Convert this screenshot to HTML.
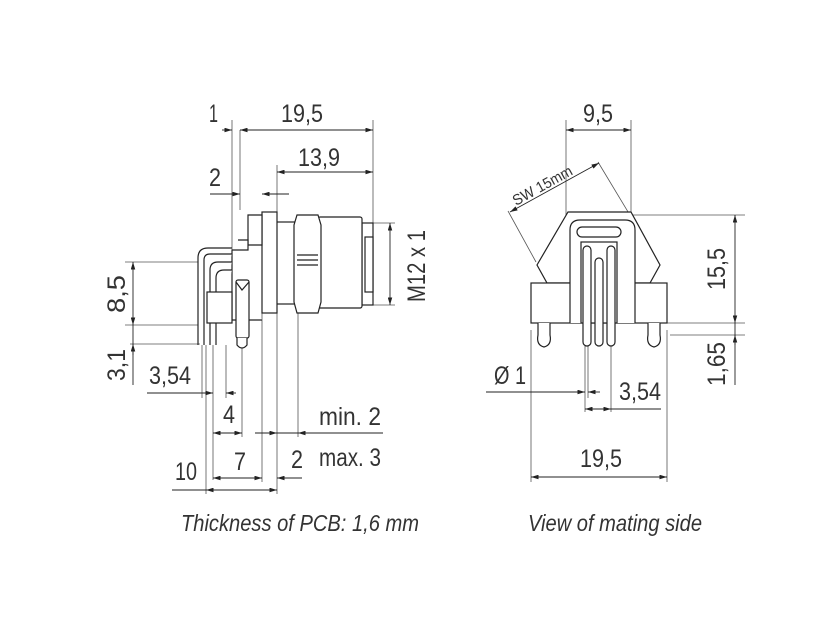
<!DOCTYPE html>
<html><head><meta charset="utf-8"><style>
html,body{margin:0;padding:0;background:#fff;width:838px;height:641px;overflow:hidden}
text{font-family:"Liberation Sans",sans-serif;fill:#333}
</style></head><body>
<svg width="838" height="641" viewBox="0 0 838 641" xmlns="http://www.w3.org/2000/svg">
<defs>
<marker id="a" viewBox="0 0 10 6" refX="10" refY="3" markerWidth="9" markerHeight="5" orient="auto-start-reverse"><path d="M0,0L10,3L0,6z" fill="#222"/></marker>
</defs>
<g stroke="#555" stroke-width="0.8" fill="none">
<line x1="232" y1="120" x2="232" y2="250"/>
<line x1="240" y1="130" x2="240" y2="210"/>
<line x1="373" y1="120" x2="373" y2="225"/>
<line x1="277" y1="165" x2="277" y2="213"/>
<line x1="125" y1="262" x2="212" y2="262"/>
<line x1="125" y1="325" x2="212" y2="325"/>
<line x1="130" y1="344" x2="200" y2="344"/>
<line x1="362" y1="223" x2="395" y2="223"/>
<line x1="362" y1="305" x2="395" y2="305"/>
<line x1="202" y1="345" x2="202" y2="398"/>
<line x1="213" y1="345" x2="213" y2="480"/>
<line x1="226" y1="345" x2="226" y2="398"/>
<line x1="242" y1="345" x2="242" y2="437"/>
<line x1="206" y1="345" x2="206" y2="494"/>
<line x1="262" y1="313" x2="262" y2="482"/>
<line x1="277" y1="313" x2="277" y2="494"/>
<line x1="298" y1="313" x2="298" y2="437"/>
</g>
<g stroke="#222" stroke-width="0.9" fill="none">
<line x1="222" y1="130" x2="232" y2="130" marker-end="url(#a)"/>
<line x1="240" y1="130" x2="373" y2="130" marker-start="url(#a)" marker-end="url(#a)"/>
<line x1="277" y1="172" x2="373" y2="172" marker-start="url(#a)" marker-end="url(#a)"/>
<line x1="210" y1="194" x2="240" y2="194" marker-end="url(#a)"/>
<line x1="289" y1="194" x2="262" y2="194" marker-end="url(#a)"/>
<line x1="133" y1="262" x2="133" y2="325" marker-start="url(#a)" marker-end="url(#a)"/>
<line x1="133" y1="325" x2="133" y2="385"/>
<line x1="133" y1="355" x2="133" y2="344" marker-end="url(#a)"/>
<line x1="147" y1="393" x2="213" y2="393" marker-end="url(#a)"/>
<line x1="236" y1="393" x2="226" y2="393" marker-end="url(#a)"/>
<line x1="213" y1="433" x2="242" y2="433" marker-start="url(#a)" marker-end="url(#a)"/>
<line x1="255" y1="433" x2="383" y2="433"/>
<line x1="255" y1="433" x2="277" y2="433" marker-end="url(#a)"/>
<line x1="298" y1="433" x2="310" y2="433" marker-start="url(#a)"/>
<line x1="213" y1="478" x2="262" y2="478" marker-start="url(#a)" marker-end="url(#a)"/>
<line x1="277" y1="478" x2="302" y2="478" marker-start="url(#a)"/>
<line x1="172" y1="490" x2="277" y2="490"/>
<line x1="206" y1="490" x2="277" y2="490" marker-start="url(#a)" marker-end="url(#a)"/>
<line x1="390" y1="223" x2="390" y2="305" marker-start="url(#a)" marker-end="url(#a)"/>
</g>
<g stroke="#222" stroke-width="1.2" fill="#fff">
<rect x="362" y="223" width="11" height="82"/>
<rect x="365" y="237" width="8" height="55"/>
<rect x="318" y="217" width="44" height="91" rx="2"/>
<rect x="276" y="222" width="22" height="82"/>
<path d="M297,215 L318,215 L321,225 L321,302 L318,313 L297,313 L294,302 L294,225 Z"/>
<line x1="297" y1="260" x2="318" y2="260"/>
<line x1="297" y1="255" x2="318" y2="255"/>
<line x1="297" y1="265" x2="318" y2="265"/>
<rect x="262" y="212" width="15" height="101"/>
<path d="M248,215 L262,215 L262,245 L248,245 Z"/>
<path d="M238,240 L248,240 L248,250 L232,250 L232,320 L262,320"/>
<path d="M198,345 L198,258 Q198,248 208,248 L232,248"/>
<path d="M204,345 L204,260 Q204,254 210,254 L232,254"/>
<path d="M210,345 L210,270 Q210,262 218,262 L232,262"/>
<path d="M216,345 L216,278 Q216,270 224,270 L232,270"/>
<rect x="207" y="292" width="25" height="31"/>
<rect x="236" y="280" width="13" height="58" rx="2"/>
<path d="M236,282 L242,290 L249,282"/>
<path d="M237,338 L237,345 Q242,351 247,345 L247,338"/>
</g>
<g stroke="#555" stroke-width="0.8" fill="none">
<line x1="566" y1="120" x2="566" y2="270"/>
<line x1="631" y1="120" x2="631" y2="215"/>
<line x1="630" y1="215" x2="745" y2="215"/>
<line x1="665" y1="323" x2="745" y2="323"/>
<line x1="670" y1="335" x2="745" y2="335"/>
<line x1="531" y1="330" x2="531" y2="482"/>
<line x1="667" y1="330" x2="667" y2="482"/>
<line x1="585" y1="345" x2="585" y2="412"/>
<line x1="588" y1="345" x2="588" y2="398"/>
<line x1="611" y1="345" x2="611" y2="412"/>
<line x1="508" y1="211" x2="536" y2="262"/>
<line x1="598" y1="162" x2="660" y2="265"/>
</g>
<g stroke="#222" stroke-width="0.9" fill="none">
<line x1="566" y1="130" x2="631" y2="130" marker-start="url(#a)" marker-end="url(#a)"/>
<line x1="510" y1="212" x2="599" y2="163" marker-start="url(#a)" marker-end="url(#a)"/>
<line x1="735" y1="215" x2="735" y2="323" marker-start="url(#a)" marker-end="url(#a)"/>
<line x1="735" y1="323" x2="735" y2="385"/>
<line x1="735" y1="345" x2="735" y2="335" marker-end="url(#a)"/>
<line x1="486" y1="392" x2="585" y2="392" marker-end="url(#a)"/>
<line x1="600" y1="392" x2="588" y2="392" marker-end="url(#a)"/>
<line x1="585" y1="409" x2="611" y2="409" marker-start="url(#a)" marker-end="url(#a)"/>
<line x1="611" y1="409" x2="661" y2="409"/>
<line x1="531" y1="477" x2="667" y2="477" marker-start="url(#a)" marker-end="url(#a)"/>
</g>
<g stroke="#222" stroke-width="1.2" fill="#fff">
<path d="M568,212 L631,212 L660,265 L650,283 L547,283 L537,265 Z"/>
<rect x="531" y="283" width="136" height="40"/>
<path d="M570,323 L570,230 Q570,220 580,220 L625,220 Q635,220 635,230 L635,323"/>
<rect x="577" y="227" width="44" height="10" rx="5"/>
<rect x="581" y="242" width="36" height="81"/>
<path d="M538,323 L538,335 Q536,345 544,347 Q552,345 550,335 L550,323"/>
<path d="M648,323 L648,335 Q646,345 654,347 Q662,345 660,335 L660,323"/>
<rect x="583" y="246" width="8" height="100" rx="4"/>
<rect x="607" y="246" width="8" height="100" rx="4"/>
<rect x="595" y="258" width="8" height="88" rx="4"/>
</g>
<g font-size="25" lengthAdjust="spacingAndGlyphs">
<text x="209" y="122" textLength="9" lengthAdjust="spacingAndGlyphs">1</text>
<text x="281" y="122" textLength="42" lengthAdjust="spacingAndGlyphs">19,5</text>
<text x="209" y="186" textLength="12" lengthAdjust="spacingAndGlyphs">2</text>
<text x="298" y="166" textLength="42" lengthAdjust="spacingAndGlyphs">13,9</text>
<text x="125" y="294" transform="rotate(-90 125 294)" text-anchor="middle" textLength="38" lengthAdjust="spacingAndGlyphs">8,5</text>
<text x="125" y="365" transform="rotate(-90 125 365)" text-anchor="middle" textLength="32" lengthAdjust="spacingAndGlyphs">3,1</text>
<text x="149" y="384" textLength="42" lengthAdjust="spacingAndGlyphs">3,54</text>
<text x="223" y="423" textLength="12" lengthAdjust="spacingAndGlyphs">4</text>
<text x="234" y="470" textLength="12" lengthAdjust="spacingAndGlyphs">7</text>
<text x="175" y="480" textLength="22" lengthAdjust="spacingAndGlyphs">10</text>
<text x="291" y="468" textLength="12" lengthAdjust="spacingAndGlyphs">2</text>
<text x="319" y="425" textLength="62" lengthAdjust="spacingAndGlyphs">min. 2</text>
<text x="319" y="466" textLength="62" lengthAdjust="spacingAndGlyphs">max. 3</text>
<text x="425" y="266" transform="rotate(-90 425 266)" text-anchor="middle" textLength="72" lengthAdjust="spacingAndGlyphs">M12 x 1</text>
<text x="583" y="122" textLength="30" lengthAdjust="spacingAndGlyphs">9,5</text>
<text x="725" y="269" transform="rotate(-90 725 269)" text-anchor="middle" textLength="42" lengthAdjust="spacingAndGlyphs">15,5</text>
<text x="725" y="364" transform="rotate(-90 725 364)" text-anchor="middle" textLength="44" lengthAdjust="spacingAndGlyphs">1,65</text>
<text x="494" y="384" textLength="32" lengthAdjust="spacingAndGlyphs">Ø 1</text>
<text x="619" y="400" textLength="42" lengthAdjust="spacingAndGlyphs">3,54</text>
<text x="580" y="467" textLength="42" lengthAdjust="spacingAndGlyphs">19,5</text>
</g>
<text x="516" y="206" font-size="15" transform="rotate(-29 516 206)" textLength="66" lengthAdjust="spacingAndGlyphs">SW 15mm</text>
<g font-size="23" font-style="italic">
<text x="181" y="531" textLength="238" lengthAdjust="spacingAndGlyphs">Thickness of PCB: 1,6 mm</text>
<text x="528" y="531" textLength="174" lengthAdjust="spacingAndGlyphs">View of mating side</text>
</g>
</svg>
</body></html>
